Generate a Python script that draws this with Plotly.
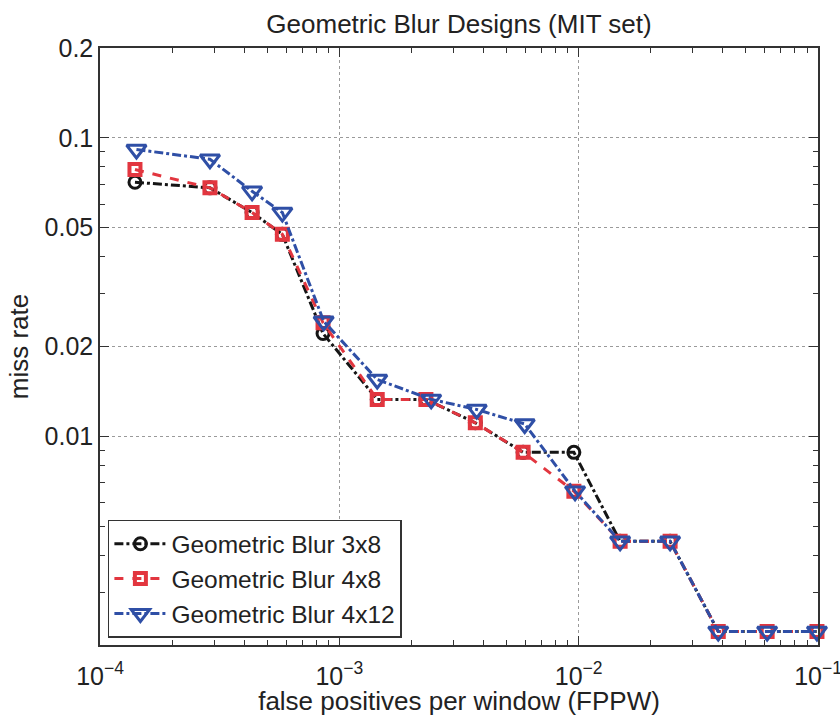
import plotly.graph_objects as go

fppw = [1.40e-4, 2.88e-4, 4.32e-4, 5.78e-4, 8.55e-4, 1.44e-3, 2.30e-3, 3.70e-3,
        5.86e-3, 9.55e-3, 1.49e-2, 2.41e-2, 3.83e-2, 6.13e-2, 9.90e-2]
miss_3x8 = [0.0710, 0.0680, 0.0562, 0.0475, 0.0221, 0.0133, 0.0133, 0.0111,
            0.00884, 0.00884, 0.00445, 0.00445, 0.00222, 0.00222, 0.00222]
miss_4x8 = [0.0783, 0.0680, 0.0562, 0.0475, 0.0240, 0.0133, 0.0133, 0.0111,
            0.00884, 0.00655, 0.00445, 0.00445, 0.00222, 0.00222, 0.00222]
fppw_4x12 = [1.42e-4, 2.88e-4, 4.32e-4, 5.78e-4, 8.60e-4, 1.44e-3, 2.42e-3, 3.75e-3,
             5.95e-3, 9.66e-3, 1.49e-2, 2.41e-2, 3.83e-2, 6.13e-2, 9.90e-2]
miss_4x12 = [0.0914, 0.0848, 0.0662, 0.0562, 0.0243, 0.0155, 0.0133, 0.0123,
             0.0110, 0.00655, 0.00445, 0.00445, 0.00222, 0.00222, 0.00222]

series_names = ["Geometric Blur 3x8", "Geometric Blur 4x8", "Geometric Blur 4x12"]
x_ticks = [1e-4, 1e-3, 1e-2, 1e-1]
x_ticktext = ["10<sup>−4</sup>", "10<sup>−3</sup>", "10<sup>−2</sup>", "10<sup>−1</sup>"]
y_ticks = [0.01, 0.02, 0.05, 0.1, 0.2]
y_ticktext = ["0.01", "0.02", "0.05", "0.1", "0.2"]

# minor (unlabelled) log ticks, MATLAB style
x_minor = [k * 10.0 ** e for e in (-4, -3, -2) for k in range(2, 10)]
y_minor = [round(k * 10.0 ** e, 6) for e in (-3, -2, -1) for k in range(1, 10)
           if 0.002 <= k * 10.0 ** e <= 0.2 and round(k * 10.0 ** e, 6) not in y_ticks]

BLACK = "#151515"
RED = "#e2363f"
BLUE = "#2f4fa6"
AX = "#333333"

fig = go.Figure()
fig.add_trace(go.Scatter(
    x=fppw, y=miss_3x8, name=series_names[0], mode="lines+markers", cliponaxis=False,
    line=dict(color=BLACK, width=3, dash="dashdot"),
    marker=dict(symbol="circle-open", size=12, color=BLACK, line=dict(width=3, color=BLACK)),
))
fig.add_trace(go.Scatter(
    x=fppw, y=miss_4x8, name=series_names[1], mode="lines+markers", cliponaxis=False,
    line=dict(color=RED, width=3, dash="dash"),
    marker=dict(symbol="square-open", size=11, color=RED, line=dict(width=4, color=RED)),
))
fig.add_trace(go.Scatter(
    x=fppw_4x12, y=miss_4x12, name=series_names[2], mode="lines+markers", cliponaxis=False,
    line=dict(color=BLUE, width=3, dash="dashdot"),
    marker=dict(symbol="triangle-down-open", size=17, color=BLUE, line=dict(width=3, color=BLUE)),
))

font_family = "Liberation Sans, Arial, Helvetica, sans-serif"
fig.update_layout(
    width=840, height=716,
    margin=dict(l=100, r=22, t=48, b=71),
    paper_bgcolor="white", plot_bgcolor="white",
    font=dict(family=font_family, size=25, color="#222"),
    title=dict(text="Geometric Blur Designs (MIT set)", x=0.5, xref="paper", xanchor="center",
               y=0.966, yanchor="middle", font=dict(size=26, color="#222")),
    legend=dict(x=0.011, y=0.012, xanchor="left", yanchor="bottom",
                bgcolor="white", bordercolor=AX, borderwidth=1.5,
                font=dict(size=24.5, color="#222"), tracegroupgap=0,
                itemwidth=52),
    showlegend=True,
    xaxis=dict(
        type="log", range=[-4, -1], automargin=False,
        tickvals=x_ticks, ticktext=x_ticktext,
        ticks="inside", ticklen=9, tickwidth=1, tickcolor=AX,
        showline=True, linecolor=AX, linewidth=1.5, mirror="ticks",
        showgrid=True, gridcolor="#9a9a9a", griddash="dot", gridwidth=1,
        zeroline=False, ticklabelstandoff=8, ticklabeloverflow="allow",
        minor=dict(tickvals=x_minor, ticks="inside", ticklen=5, tickcolor=AX,
                   tickwidth=1, showgrid=False),
        title=dict(text="false positives per window (FPPW)", font=dict(size=26), standoff=3),
    ),
    yaxis=dict(
        type="log", range=[-2.699, -0.699], automargin=False,
        tickvals=y_ticks, ticktext=y_ticktext,
        ticks="inside", ticklen=9, tickwidth=1, tickcolor=AX,
        showline=True, linecolor=AX, linewidth=1.5, mirror="ticks",
        showgrid=True, gridcolor="#9a9a9a", griddash="dot", gridwidth=1,
        zeroline=False, ticklabeloverflow="allow",
        minor=dict(tickvals=y_minor, ticks="inside", ticklen=5, tickcolor=AX,
                   tickwidth=1, showgrid=False),
        title=dict(text="miss rate", font=dict(size=26), standoff=8),
    ),
)

fig.write_html("out.html")
